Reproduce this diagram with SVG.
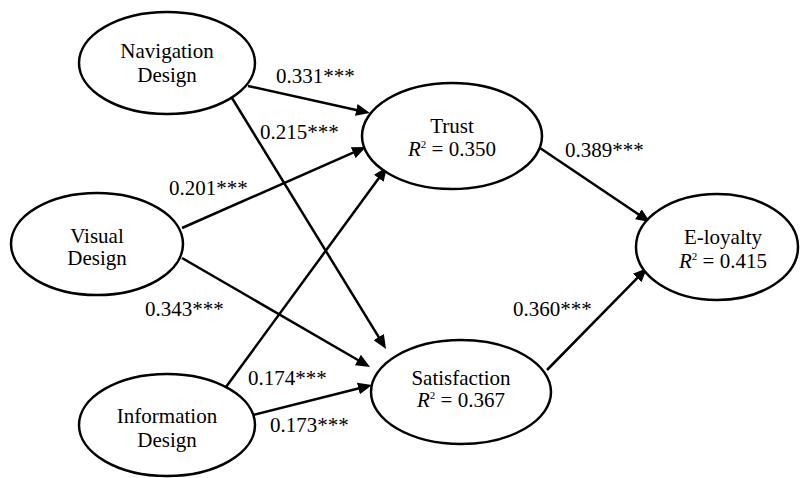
<svg xmlns="http://www.w3.org/2000/svg" width="800" height="478" viewBox="0 0 800 478">
<style>
text{font-family:'Liberation Serif','Times New Roman',Times,serif;font-size:21px;fill:#000}
.n{text-anchor:middle}
ellipse{fill:#fff;stroke:#000;stroke-width:2.5}
.c line{stroke:#000;stroke-width:2.5;marker-end:url(#ah)}
.i{font-style:italic}
</style>
<defs>
<marker id="ah" markerWidth="14" markerHeight="12" refX="8" refY="6" orient="auto" markerUnits="userSpaceOnUse">
<path d="M0,0 L14,6 L0,12 z" fill="#000"/>
</marker>
</defs>
<rect width="800" height="478" fill="#fff"/>
<g class="c" id="connectors">
<line x1="248" y1="86" x2="364.1" y2="111.7"/>
<line x1="232" y1="98" x2="382.9" y2="343.9"/>
<line x1="182" y1="228" x2="360.5" y2="149.4"/>
<line x1="182" y1="258" x2="364.8" y2="364.0"/>
<line x1="226" y1="387" x2="383.5" y2="171.8"/>
<line x1="253" y1="415" x2="366.2" y2="386.5"/>
<line x1="540" y1="148" x2="645.0" y2="218.7"/>
<line x1="547" y1="370" x2="642.8" y2="272.3"/>
</g>
<g id="labels" font-family="Liberation Serif, serif">
<text x="276" y="83">0.331***</text>
<text x="260" y="139">0.215***</text>
<text x="169" y="195">0.201***</text>
<text x="145" y="316">0.343***</text>
<text x="248" y="385">0.174***</text>
<text x="270" y="432">0.173***</text>
<text x="565" y="157">0.389***</text>
<text x="513" y="316">0.360***</text>
</g>
<g id="navigation">
<ellipse cx="167" cy="63" rx="88" ry="51"/>
<text class="n" x="167" y="58">Navigation</text>
<text class="n" x="167" y="82">Design</text>
</g>
<g id="visual">
<ellipse cx="97" cy="244" rx="86" ry="51"/>
<text class="n" x="97" y="243">Visual</text>
<text class="n" x="97" y="265">Design</text>
</g>
<g id="information">
<ellipse cx="167" cy="425" rx="88" ry="51"/>
<text class="n" x="167" y="423">Information</text>
<text class="n" x="167" y="447">Design</text>
</g>
<g id="trust">
<ellipse cx="452" cy="136" rx="90" ry="53"/>
<text class="n" x="452" y="133">Trust</text>
<text class="n" x="452" y="156"><tspan class="i">R</tspan><tspan dy="-8" font-size="11">2</tspan><tspan dy="8"> = 0.350</tspan></text>
</g>
<g id="satisfaction">
<ellipse cx="461" cy="392" rx="90" ry="52"/>
<text class="n" x="461" y="385">Satisfaction</text>
<text class="n" x="461" y="407"><tspan class="i">R</tspan><tspan dy="-8" font-size="11">2</tspan><tspan dy="8"> = 0.367</tspan></text>
</g>
<g id="eloyalty">
<ellipse cx="717" cy="247" rx="81" ry="53"/>
<text class="n" x="723" y="244">E-loyalty</text>
<text class="n" x="723" y="268"><tspan class="i">R</tspan><tspan dy="-8" font-size="11">2</tspan><tspan dy="8"> = 0.415</tspan></text>
</g>
</svg>
